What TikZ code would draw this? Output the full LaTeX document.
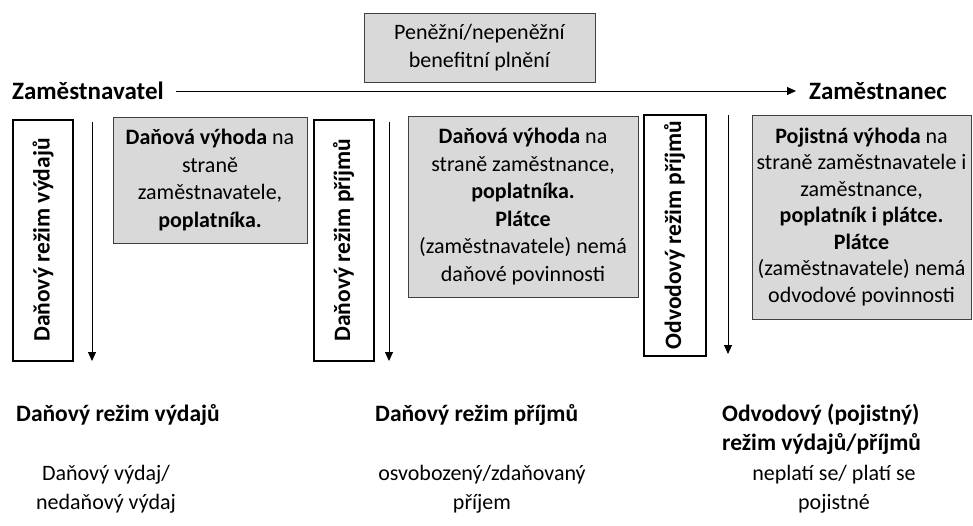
\documentclass[tikz,border=0pt]{standalone}
\usepackage{fontspec}
\setmainfont{Carlito}
\usetikzlibrary{arrows.meta}
\definecolor{boxgray}{HTML}{D9D9D9}
\definecolor{boxline}{HTML}{404040}
\begin{document}
\begin{tikzpicture}[x=1pt,y=-1pt,
    graybox/.style={draw=boxline,line width=1pt,fill=boxgray,align=center,inner sep=0pt,font=\fontsize{22}{27.5}\selectfont},
    vbox/.style={draw=black,line width=2pt,rotate=90,inner sep=0pt,minimum height=60pt,minimum width=241pt,font=\fontsize{23.5}{26}\selectfont\bfseries},
    arr/.style={-{Triangle[length=9pt,width=8pt]},line width=0.8pt},
    lbl/.style={font=\fontsize{23.5}{29}\selectfont\bfseries,inner sep=0pt,align=left},
    txt/.style={font=\fontsize{22}{29}\selectfont,inner sep=0pt,align=center}]
    \useasboundingbox (0,0) rectangle (973,525);
    % top
    \node[graybox,minimum width=231pt,minimum height=69pt,font=\fontsize{22}{28.5}\selectfont] (plneni) at (479.5,47.5) {Peněžní/nepeněžní\\benefitní plnění};
    \node[lbl,font=\fontsize{25}{29}\selectfont\bfseries,anchor=west,text height=16pt,text depth=0pt] (zamtel) at (12,91) {Zaměstnavatel};
    \node[lbl,font=\fontsize{25}{29}\selectfont\bfseries,anchor=west,text height=16pt,text depth=0pt] (zamnec) at (809,91) {Zaměstnanec};
    \draw[arr,shorten <=12pt,shorten >=13pt] (zamtel.east) -- (zamnec.west);
    % rezimy
    \node[vbox] (rvydaje) at (43,240) {Daňový režim výdajů};
    \node[vbox] (rprijmy) at (343.5,240) {Daňový režim příjmů};
    \node[vbox,minimum height=62pt] (rodvody) at (674.5,235) {Odvodový režim příjmů};
    \coordinate (a1t) at (92,122); \coordinate (a1b) at (92,361);
    \coordinate (a2t) at (389,122); \coordinate (a2b) at (389,361);
    \coordinate (a3t) at (728,115); \coordinate (a3b) at (728,354);
    \draw[arr] (a1t) -- (a1b);
    \draw[arr] (a2t) -- (a2b);
    \draw[arr] (a3t) -- (a3b);
    % vyhody
    \node[graybox,minimum width=194pt,minimum height=126pt] (vyhoda1) at (210,180) {\textbf{Daňová výhoda} na\\straně\\zaměstnavatele,\\\textbf{poplatníka.}};
    \node[graybox,minimum width=230pt,minimum height=181pt] (vyhoda2) at (523,206.5) {\textbf{Daňová výhoda} na\\straně zaměstnance,\\\textbf{poplatníka.}\\\textbf{Plátce}\\(zaměstnavatele) nemá\\daňové povinnosti};
    \node[graybox,minimum width=219pt,minimum height=204pt,font=\fontsize{22}{26.5}\selectfont] (vyhoda3) at (861.5,217) {\textbf{Pojistná výhoda} na\\straně zaměstnavatele i\\zaměstnance,\\\textbf{poplatník i plátce.}\\\textbf{Plátce}\\(zaměstnavatele) nemá\\odvodové povinnosti};
    % dole
    \node[lbl,anchor=base west] (nvydaje) at (16,421) {Daňový režim výdajů};
    \node[lbl,anchor=base west] (nprijmy) at (375,421) {Daňový režim příjmů};
    \node[lbl,anchor=base west] (nodvody) at (722,450) {Odvodový (pojistný)\\režim výdajů/příjmů};
    \node[txt] (tvydaje) at (106,489) {Daňový výdaj/\\nedaňový výdaj};
    \node[txt] (tprijmy) at (482,489) {osvobozený/zdaňovaný\\příjem};
    \node[txt] (todvody) at (834,489) {neplatí se/ platí se\\pojistné};
\end{tikzpicture}
\end{document}
